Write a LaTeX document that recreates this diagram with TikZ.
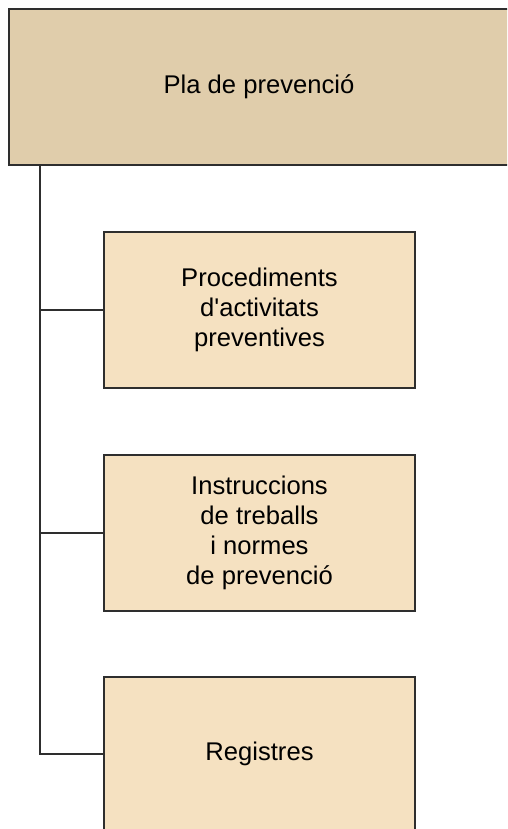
\documentclass[tikz,border=0pt]{standalone}
\usepackage{fontspec}
\setmainfont{Liberation Sans}
\definecolor{topfill}{HTML}{E0CDAB}
\definecolor{boxfill}{HTML}{F5E1C1}
\definecolor{edge}{HTML}{2E2E2E}
\begin{document}
\begin{tikzpicture}[x=1pt,y=-1pt,
  topbox/.style={draw=edge, line width=2pt, fill=topfill, rectangle, inner sep=0pt,
    minimum width=524pt, minimum height=156pt, align=center,
    font=\fontsize{25.6}{30}\selectfont},
  childbox/.style={draw=edge, line width=1.6pt, fill=boxfill, rectangle, inner sep=0pt,
    minimum width=311pt, minimum height=156pt, align=center,
    font=\fontsize{25.6}{30}\selectfont},
  conn/.style={draw=edge, line width=1.6pt}]
\useasboundingbox (0,0) rectangle (507,829);
\clip (0,0) rectangle (507,829);
\node[topbox] (top) at (271,87) {};
\node[font=\fontsize{25.6}{30}\selectfont] (topt) at (259,87) {Pla de prevenció};
\node[childbox] (c1) at (259.5,310) {Procediments\\d\textquotesingle activitats\\preventives};
\node[childbox] (c2) at (259.5,533) {Instruccions\\de treballs\\i normes\\de prevenció};
\node[childbox, minimum height=160pt] (c3) at (259.5,757) {};
\node[font=\fontsize{25.6}{30}\selectfont] (c3t) at (259.5,754) {Registres};
\coordinate (t) at (40,0);
\draw[conn] (top.south -| t) |- (c3.west |- c3t.center);
\draw[conn] (c1.west -| t) -- (c1.west);
\draw[conn] (c2.west -| t) -- (c2.west);
\end{tikzpicture}
\end{document}
